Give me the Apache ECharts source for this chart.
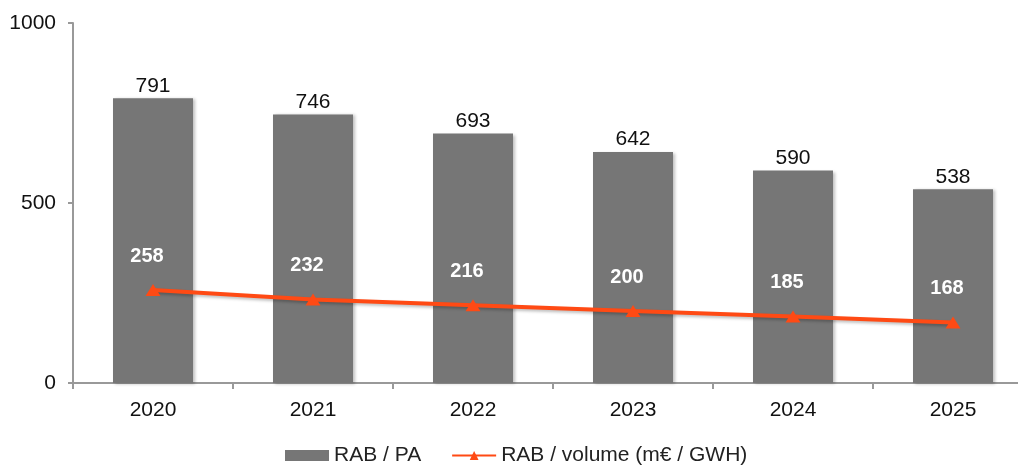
<!DOCTYPE html>
<html><head><meta charset="utf-8">
<script src="https://cdn.jsdelivr.net/npm/echarts@6/dist/echarts.min.js"></script>
<style>html,body{margin:0;padding:0;background:#fff}#c{width:1018px;height:466px}</style>
</head><body><div id="c"></div>
<script>
const categories = ['2020','2021','2022','2023','2024','2025'];
const rabPA = [791, 746, 693, 642, 590, 538];
const rabVolume = [258, 232, 216, 200, 185, 168];
const yTicks = [0, 500, 1000];

const chart = echarts.init(document.getElementById('c'));
const font = 'Liberation Sans, Arial, sans-serif';
chart.setOption({
  animation: false,
  textStyle: {fontFamily: font},
  grid: {left: 73, width: 960, top: 23, height: 360, containLabel: false, outerBoundsMode: 'none'},
  legend: {
    top: 440, left: 280, itemGap: 30, itemWidth: 44, itemHeight: 11,
    textStyle: {fontSize: 21, color: '#222', fontFamily: font},
    data: [
      {name: 'RAB / PA', icon: 'rect'},
      {name: 'RAB / volume (m€ / GWH)'}
    ]
  },
  xAxis: {
    type: 'category', data: categories,
    axisLine: {lineStyle: {color: '#999', width: 2}},
    axisTick: {show: true, length: 6, lineStyle: {color: '#999', width: 2}},
    axisLabel: {fontSize: 21, color: '#111', margin: 17}
  },
  yAxis: {
    type: 'value', min: 0, max: 1000, interval: 500,
    axisLine: {show: true, lineStyle: {color: '#999', width: 2}},
    axisTick: {show: true, length: 5, lineStyle: {color: '#999', width: 2}},
    splitLine: {show: false},
    axisLabel: {fontSize: 21, color: '#111', margin: 17, formatter: v => yTicks.includes(v) ? String(v) : ''}
  },
  series: [
    {
      name: 'RAB / PA', type: 'bar', data: rabPA, barWidth: '50%',
      itemStyle: {color: '#767676', shadowColor: 'rgba(0,0,0,0.25)', shadowBlur: 3, shadowOffsetX: 2, shadowOffsetY: 1},
      label: {show: true, position: 'top', distance: 2, fontSize: 21, color: '#111'}
    },
    {
      name: 'RAB / volume (m€ / GWH)', type: 'line', data: rabVolume,
      symbol: 'triangle', symbolSize: [15, 12],
      lineStyle: {color: '#FF4A14', width: 4, shadowColor: 'rgba(0,0,0,0.25)', shadowBlur: 3, shadowOffsetY: 2},
      itemStyle: {color: '#FF4A14'},
      label: {show: true, position: 'top', distance: 18, offset: [-6, 0], fontSize: 20, fontWeight: 'bold', color: '#fff'}
    }
  ]
});
</script></body></html>
